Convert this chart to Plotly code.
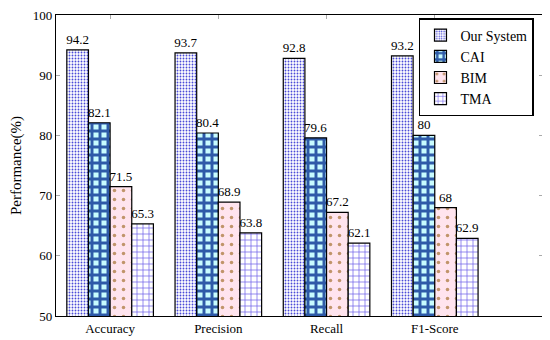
import plotly.graph_objects as go

categories = ["Accuracy", "Precision", "Recall", "F1-Score"]
series_names = ["Our System", "CAI", "BIM", "TMA"]
our_system = [94.2, 93.7, 92.8, 93.2]
cai = [82.1, 80.4, 79.6, 80]
bim = [71.5, 68.9, 67.2, 68]
tma = [65.3, 63.8, 62.1, 62.9]
y_ticks = [50, 60, 70, 80, 90, 100]

values = [our_system, cai, bim, tma]
styles = [
    dict(shape=".", fgcolor="#4a4ad8", bgcolor="white", size=3, solidity=0.3),
    dict(shape="+", fgcolor="#2e5aa8", bgcolor="#c8fcff", size=8, solidity=0.6),
    dict(shape=".", fgcolor="#c0946a", bgcolor="#ffe4ee", size=9, solidity=0.12),
    dict(shape="+", fgcolor="#6a5ae8", bgcolor="white", size=6, solidity=0.22),
]

FONT = "Liberation Serif"
xpos = list(range(len(categories)))

fig = go.Figure()
for name, vals, st in zip(series_names, values, styles):
    fig.add_trace(go.Bar(
        name=name, x=xpos, y=vals,
        marker=dict(color=st["bgcolor"], pattern=dict(
            shape=st["shape"], fgcolor=st["fgcolor"], bgcolor=st["bgcolor"],
            size=st["size"], solidity=st["solidity"], fillmode="replace"),
            line=dict(color="black", width=1.2)),
        text=[str(v) for v in vals], textposition="outside",
        textfont=dict(family=FONT, size=13, color="black"),
        cliponaxis=False, constraintext="none",
    ))

fig.update_layout(
    width=550, height=340,
    margin=dict(l=48, r=15, t=7, b=32),
    barmode="group", bargap=0.2, bargroupgap=0,
    plot_bgcolor="white", paper_bgcolor="white",
    font=dict(family=FONT, size=13, color="black"),
    showlegend=True,
    legend=dict(x=0.9815, y=0.99, xanchor="right", yanchor="top",
                bgcolor="white", bordercolor="black", borderwidth=1.5,
                font=dict(family=FONT, size=14, color="black"),
                itemwidth=30),
)
fig.update_xaxes(
    range=[-0.5, 4.0], tickvals=xpos, ticktext=categories,
    showline=True, linecolor="black", linewidth=1.3, mirror="ticks",
    ticks="inside", ticklen=4, tickcolor="#aaaaaa", showgrid=False,
    zeroline=False, layer="below traces", automargin=False,
    ticklabeloverflow="allow",
    tickfont=dict(family=FONT, size=13, color="black"),
)
fig.update_yaxes(
    range=[50, 100], tickvals=y_ticks,
    showline=True, linecolor="black", linewidth=1.3, mirror="ticks",
    ticks="inside", ticklen=4, tickcolor="#aaaaaa", showgrid=False,
    zeroline=False, automargin=False, ticklabeloverflow="allow",
    title=dict(text="Performance(%)", font=dict(family=FONT, size=15)),
    tickfont=dict(family=FONT, size=13, color="black"),
)

fig.write_html("out.html")
